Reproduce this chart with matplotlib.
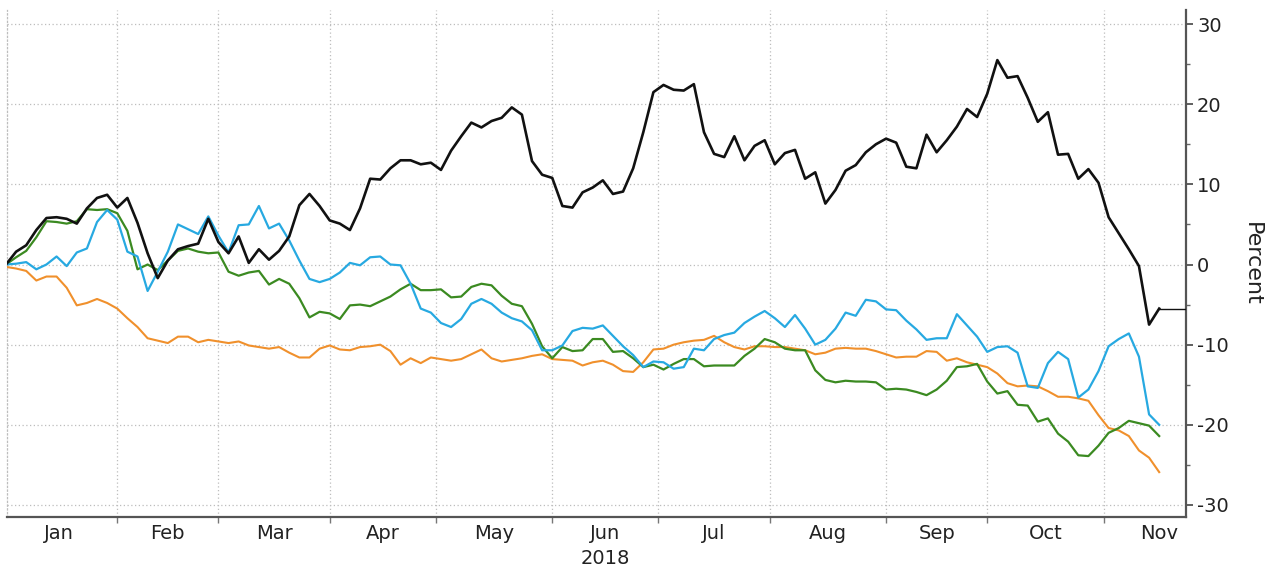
import numpy as np
import pandas as pd
import matplotlib
matplotlib.use("Agg")
import matplotlib.pyplot as plt

# ---- data (percent change, sampled every 2nd business day from 2 Jan 2018) ----
dates = pd.bdate_range("2018-01-02", periods=115, freq="2B")

black = [0.0, 1.6, 2.4, 4.3, 5.8, 5.9, 5.7, 5.1, 7.0, 8.3,
         8.7, 7.1, 8.3, 5.2, 1.4, -1.7, 0.5, 1.9, 2.3, 2.6,
         5.7, 2.8, 1.4, 3.5, 0.2, 1.9, 0.6, 1.7, 3.5, 7.4,
         8.8, 7.3, 5.5, 5.1, 4.3, 7.0, 10.7, 10.6, 12.0, 13.0,
         13.0, 12.5, 12.7, 11.8, 14.2, 16.0, 17.7, 17.1, 17.9, 18.3,
         19.6, 18.7, 12.9, 11.2, 10.8, 7.3, 7.1, 9.0, 9.6, 10.5,
         8.8, 9.1, 12.0, 16.5, 21.5, 22.4, 21.8, 21.7, 22.5, 16.5,
         13.8, 13.4, 16.0, 13.0, 14.8, 15.5, 12.5, 13.9, 14.3, 10.7,
         11.5, 7.6, 9.3, 11.7, 12.4, 14.0, 15.0, 15.7, 15.2, 12.2,
         12.0, 16.2, 14.0, 15.5, 17.2, 19.4, 18.4, 21.3, 25.5, 23.3,
         23.5, 20.8, 17.8, 19.0, 13.7, 13.8, 10.7, 11.9, 10.2, 5.9,
         3.9, 1.9, -0.2, -7.5, -5.5]

blue = [0.0, 0.1, 0.3, -0.6, 0.0, 1.0, -0.2, 1.5, 2.0, 5.3,
        6.8, 5.6, 1.6, 1.0, -3.3, -0.9, 1.6, 5.0, 4.4, 3.8,
        6.0, 3.6, 1.5, 4.9, 5.0, 7.3, 4.5, 5.1, 3.0, 0.5,
        -1.8, -2.2, -1.8, -1.0, 0.2, -0.1, 0.9, 1.0, 0.0, -0.1,
        -2.4, -5.5, -6.0, -7.3, -7.8, -6.8, -4.9, -4.3, -4.9, -6.0,
        -6.7, -7.1, -8.2, -10.7, -10.7, -10.1, -8.3, -7.9, -8.0, -7.6,
        -8.9, -10.2, -11.3, -12.8, -12.1, -12.2, -13.0, -12.8, -10.5, -10.7,
        -9.3, -8.8, -8.5, -7.3, -6.5, -5.8, -6.7, -7.8, -6.3, -8.0,
        -10.0, -9.4, -8.0, -6.0, -6.4, -4.4, -4.6, -5.6, -5.7, -7.0,
        -8.1, -9.4, -9.2, -9.2, -6.2, -7.6, -9.0, -10.9, -10.3, -10.2,
        -11.0, -15.2, -15.4, -12.3, -10.9, -11.8, -16.6, -15.6, -13.3, -10.2,
        -9.3, -8.6, -11.5, -18.7, -20.0]

green = [0.0, 0.9, 1.7, 3.4, 5.4, 5.3, 5.1, 5.4, 6.9, 6.8,
         6.9, 6.4, 4.2, -0.6, 0.0, -0.7, 0.5, 1.7, 2.0, 1.6,
         1.4, 1.5, -0.9, -1.4, -1.0, -0.8, -2.5, -1.8, -2.4, -4.2,
         -6.6, -5.9, -6.1, -6.8, -5.1, -5.0, -5.2, -4.6, -4.0, -3.1,
         -2.4, -3.2, -3.2, -3.1, -4.1, -4.0, -2.8, -2.4, -2.6, -3.9,
         -4.9, -5.2, -7.4, -10.2, -11.7, -10.3, -10.8, -10.7, -9.3, -9.3,
         -10.9, -10.8, -11.7, -12.8, -12.5, -13.1, -12.4, -11.8, -11.8, -12.7,
         -12.6, -12.6, -12.6, -11.4, -10.5, -9.3, -9.7, -10.5, -10.7, -10.7,
         -13.2, -14.4, -14.7, -14.5, -14.6, -14.6, -14.7, -15.6, -15.5, -15.6,
         -15.9, -16.3, -15.6, -14.5, -12.8, -12.7, -12.4, -14.6, -16.1, -15.8,
         -17.5, -17.6, -19.6, -19.2, -21.1, -22.1, -23.8, -23.9, -22.6, -21.0,
         -20.4, -19.5, -19.8, -20.1, -21.4]

orange = [-0.3, -0.5, -0.8, -2.0, -1.5, -1.5, -2.9, -5.1, -4.8, -4.3,
          -4.8, -5.5, -6.7, -7.8, -9.2, -9.5, -9.8, -9.0, -9.0, -9.7,
          -9.4, -9.6, -9.8, -9.6, -10.1, -10.3, -10.5, -10.3, -11.0, -11.6,
          -11.6, -10.5, -10.1, -10.6, -10.7, -10.3, -10.2, -10.0, -10.8, -12.5,
          -11.7, -12.3, -11.6, -11.8, -12.0, -11.8, -11.2, -10.6, -11.7, -12.1,
          -11.9, -11.7, -11.4, -11.2, -11.8, -11.9, -12.0, -12.6, -12.2, -12.0,
          -12.5, -13.3, -13.4, -12.2, -10.6, -10.5, -10.0, -9.7, -9.5, -9.4,
          -8.9, -9.7, -10.3, -10.6, -10.2, -10.2, -10.3, -10.3, -10.5, -10.7,
          -11.2, -11.0, -10.5, -10.4, -10.5, -10.5, -10.8, -11.2, -11.6, -11.5,
          -11.5, -10.8, -10.9, -12.0, -11.7, -12.2, -12.5, -12.8, -13.6, -14.8,
          -15.2, -15.1, -15.2, -15.8, -16.5, -16.5, -16.7, -17.0, -18.8, -20.4,
          -20.7, -21.4, -23.2, -24.1, -25.9]

month_labels = ["Jan", "Feb", "Mar", "Apr", "May", "Jun", "Jul", "Aug", "Sep", "Oct", "Nov"]
year_label = "2018"
y_ticks = [30, 20, 10, 0, -10, -20, -30]
y_label = "Percent"

# ---- figure ----
W, H = 1272, 568
fig = plt.figure(figsize=(W / 100, H / 100), dpi=100)
ax = fig.add_axes([7 / W, 1 - 517 / H, (1186 - 7) / W, (517 - 10) / H])

origin = np.datetime64("2018-01-01")
x = np.busday_count(origin, dates.values.astype("datetime64[D]"))
month_starts = pd.date_range("2018-01-01", "2018-12-01", freq="MS").values.astype("datetime64[D]")
bounds = np.busday_count(origin, month_starts).astype(float)

x_left, x_right = 1.2, 234.3

ax.plot(x, orange, color="#f0902c", lw=1.5, zorder=3)
ax.plot(x, green, color="#3b8a21", lw=1.6, zorder=4)
ax.plot(x, blue, color="#27a9e1", lw=1.6, zorder=5)
ax.plot(x, black, color="#111111", lw=1.9, zorder=6)
ax.plot([x[-1], x_right], [black[-1], black[-1]], color="#111111", lw=1.0, zorder=6)

ax.set_xlim(x_left, x_right)
ax.set_ylim(-31.5, 31.75)

# vertical grid at month boundaries
ax.set_xticks(bounds[1:11])
ax.set_xticklabels([])
ax.set_xticks((bounds[:-1] + bounds[1:]) / 2, minor=True)
ax.set_xticklabels(month_labels, minor=True)
ax.tick_params(axis="x", which="major", direction="out", length=4, width=1, color="#777777")
ax.tick_params(axis="x", which="minor", length=0, pad=5, labelsize=14, labelcolor="#222222")

ax.yaxis.tick_right()
ax.yaxis.set_label_position("right")
ax.set_yticks(y_ticks)
ax.set_yticklabels([str(v) for v in y_ticks])
ax.set_yticks([25, 15, 5, -5, -15, -25], minor=True)
ax.tick_params(axis="y", which="major", direction="out", length=5, width=1.2, color="#444444",
               labelsize=14, labelcolor="#222222", pad=3)
ax.tick_params(axis="y", which="minor", direction="out", length=3, width=1, color="#666666")

ax.grid(True, which="major", linestyle=(0, (1, 2)), color="#bdbdbd", lw=0.9)

ax.spines["top"].set_visible(False)
ax.spines["left"].set_linestyle((0, (1, 2)))
ax.spines["left"].set_color("#bdbdbd")
ax.spines["left"].set_linewidth(0.9)
ax.spines["right"].set_color("#555555")
ax.spines["right"].set_linewidth(1.6)
ax.spines["bottom"].set_color("#555555")
ax.spines["bottom"].set_linewidth(1.6)

ax.set_ylabel(y_label, rotation=-90, fontsize=16, color="#222222", va="center", ha="center")
ax.yaxis.set_label_coords((1252 - 7) / (1186 - 7), 0.5)

jun_center = (bounds[5] + bounds[6]) / 2
xd = ax.transData.transform((jun_center, 0))[0] / W
fig.text(xd, 1 - 558 / H, year_label, ha="center", va="center", fontsize=14, color="#222222")

fig.savefig("out.png", dpi=100)
